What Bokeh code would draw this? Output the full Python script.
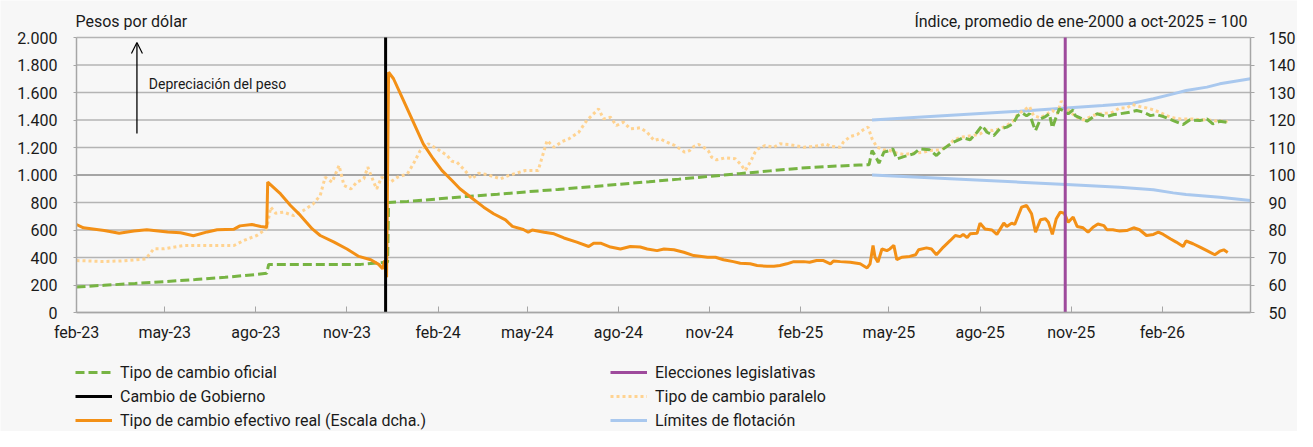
import pandas as pd
from bokeh.plotting import figure
from bokeh.models import (Range1d, LinearAxis, FixedTicker, CustomJSTickFormatter,
                          Legend, LegendItem, Label, Arrow, OpenHead)
from bokeh.embed import file_html
from bokeh.resources import INLINE
from bokeh.core.properties import value

# ---------------- DATA ----------------
FECHA_BASE = "2023-02-01"   # x values below are days since this date

oficial_dias = [0, 28, 59, 89, 120, 150, 181, 192, 194, 287,
                300, 314, 315, 334, 365, 394, 425, 455, 486, 516,
                547, 578, 608, 639, 669, 700, 731, 759, 790, 800,
                803, 806, 810, 815, 821, 824, 828, 835, 845, 851,
                861, 868, 875, 885, 895, 902, 909, 914, 919, 926,
                932, 939, 945, 950, 955, 959, 962, 966, 968, 973,
                978, 982, 985, 989, 992, 996, 1001, 1006, 1008, 1013,
                1020, 1025, 1030, 1040, 1047, 1053, 1063, 1070, 1077, 1084,
                1090, 1097, 1107, 1117, 1124, 1134, 1141, 1147, 1154, 1162]
oficial = [186, 198, 211, 224, 240, 256, 276, 285, 350, 350,
           358, 366, 800, 808, 826, 844, 860, 878, 895, 913,
           932, 951, 970, 990, 1010, 1030, 1050, 1062, 1072, 1075,
           1178, 1142, 1086, 1166, 1178, 1190, 1117, 1134, 1154, 1190,
           1183, 1142, 1190, 1239, 1270, 1256, 1311, 1360, 1311, 1287,
           1336, 1348, 1372, 1432, 1450, 1430, 1445, 1360, 1323, 1408,
           1425, 1445, 1343, 1425, 1481, 1469, 1445, 1474, 1432, 1416,
           1391, 1416, 1445, 1425, 1440, 1445, 1457, 1469, 1457, 1432,
           1440, 1425, 1396, 1367, 1401, 1396, 1408, 1372, 1391, 1382]

paralelo_dias = [0, 27, 45, 70, 78, 88, 108, 128, 142, 159,
                 169, 182, 192, 196, 201, 209, 219, 229, 239, 246,
                 251, 258, 265, 270, 277, 283, 290, 294, 300, 303,
                 308, 317, 324, 334, 340, 347, 355, 364, 374, 379,
                 384, 392, 399, 406, 414, 428, 436, 444, 453, 466,
                 475, 482, 490, 497, 507, 515, 527, 532, 539, 545,
                 552, 559, 569, 576, 583, 589, 596, 604, 609, 614,
                 619, 623, 628, 633, 638, 641, 646, 655, 665, 670,
                 675, 680, 685, 688, 695, 704, 710, 719, 725, 734,
                 742, 751, 756, 762, 771, 774, 781, 788, 794, 799,
                 803, 808, 815, 821, 828, 835, 845, 855, 861, 872,
                 878, 885, 892, 898, 905, 912, 918, 925, 932, 939,
                 945, 950, 955, 962, 966, 973, 980, 985, 990, 994,
                 998, 1003, 1009, 1016, 1019, 1026, 1033, 1040, 1046, 1053,
                 1060, 1066, 1073, 1080, 1087, 1093, 1100, 1107, 1114, 1120,
                 1127, 1134, 1141, 1147, 1154, 1162]
paralelo = [378, 371, 375, 390, 463, 463, 487, 487, 487, 487,
            524, 560, 610, 766, 722, 730, 705, 742, 790, 851,
            984, 948, 1069, 924, 899, 948, 972, 1057, 948, 899,
            984, 948, 984, 1008, 1081, 1178, 1227, 1190, 1142, 1100,
            1093, 1033, 972, 1013, 1004, 972, 996, 1013, 1033, 1033,
            1251, 1202, 1243, 1263, 1311, 1396, 1481, 1408, 1420, 1360,
            1384, 1336, 1343, 1311, 1251, 1263, 1239, 1214, 1190, 1166,
            1178, 1207, 1222, 1202, 1173, 1130, 1110, 1125, 1118, 1081,
            1033, 1093, 1166, 1190, 1214, 1202, 1227, 1222, 1214, 1202,
            1207, 1214, 1227, 1207, 1202, 1239, 1280, 1294, 1328, 1348,
            1263, 1202, 1183, 1178, 1159, 1149, 1159, 1166, 1178, 1183,
            1202, 1251, 1275, 1280, 1287, 1299, 1328, 1323, 1336, 1360,
            1391, 1440, 1465, 1498, 1432, 1416, 1445, 1469, 1445, 1537,
            1505, 1457, 1423, 1401, 1408, 1432, 1445, 1450, 1457, 1488,
            1488, 1513, 1498, 1488, 1474, 1457, 1432, 1416, 1408, 1408,
            1408, 1401, 1401, 1396, 1391, 1390]

tcer_dias = [0, 7, 28, 43, 58, 71, 92, 105, 118, 132,
             142, 159, 165, 177, 186, 192, 193, 206, 216, 226,
             238, 246, 260, 273, 285, 297, 305, 309, 311, 313,
             315, 320, 330, 340, 350, 360, 369, 379, 387, 398,
             411, 421, 433, 440, 451, 456, 460, 472, 482, 492,
             505, 517, 522, 529, 539, 549, 559, 569, 576, 586,
             593, 603, 613, 623, 637, 645, 653, 663, 670, 680,
             687, 697, 704, 710, 717, 724, 734, 740, 747, 754,
             761, 764, 771, 781, 791, 798, 801, 804, 806, 809,
             813, 818, 821, 825, 828, 833, 841, 847, 850, 858,
             863, 868, 875, 882, 887, 892, 895, 899, 902, 909,
             912, 917, 924, 929, 936, 939, 944, 947, 954, 959,
             964, 968, 973, 978, 981, 985, 989, 993, 997, 1001,
             1006, 1010, 1016, 1021, 1026, 1031, 1037, 1040, 1046, 1053,
             1060, 1067, 1073, 1080, 1087, 1092, 1097, 1104, 1110, 1117,
             1120, 1127, 1134, 1141, 1149, 1154, 1158, 1162]
tcer = [82.0, 80.8, 79.8, 78.8, 79.6, 80.1, 79.3, 79.0, 77.9, 79.3,
        80.1, 80.3, 81.5, 82.0, 81.3, 81.0, 97.4, 93.1, 88.9, 85.3,
        80.4, 78.0, 75.6, 73.1, 70.4, 69.2, 67.5, 65.9, 68.9, 62.8,
        137.4, 135.0, 127.1, 119.2, 111.3, 105.9, 101.6, 98.0, 95.0, 91.9,
        88.3, 85.9, 83.7, 81.3, 80.2, 79.2, 80.0, 79.2, 78.6, 77.1,
        75.6, 74.0, 75.2, 75.2, 73.8, 73.1, 74.0, 73.8, 73.1, 72.5,
        73.1, 72.8, 71.9, 70.7, 70.1, 70.1, 69.2, 68.5, 67.9, 67.7,
        67.1, 66.8, 66.8, 67.1, 67.7, 68.5, 68.5, 68.3, 68.9, 68.9,
        67.7, 68.7, 68.5, 68.3, 67.7, 66.2, 67.7, 74.4, 70.1, 68.3,
        73.1, 72.5, 73.1, 74.4, 69.2, 70.1, 70.4, 71.0, 72.8, 73.5,
        73.1, 71.0, 73.8, 76.2, 78.0, 77.6, 78.4, 77.2, 78.6, 78.8,
        82.5, 80.4, 80.0, 78.4, 82.5, 81.3, 82.5, 82.0, 88.3, 88.9,
        85.9, 79.2, 83.7, 84.1, 82.8, 78.4, 84.1, 86.5, 86.1, 82.8,
        84.7, 81.3, 80.8, 79.2, 81.0, 82.2, 81.6, 80.1, 80.1, 79.6,
        79.8, 80.8, 80.1, 78.0, 78.4, 79.2, 78.4, 76.8, 75.6, 74.0,
        76.0, 75.0, 73.8, 72.5, 71.0, 72.3, 72.8, 71.8]

banda_sup_dias = [803, 952, 999, 1036, 1066, 1087, 1107, 1120, 1141, 1154, 1185]
banda_sup = [1400, 1464, 1488, 1505, 1522, 1554, 1590, 1614, 1639, 1663, 1700]
banda_inf_dias = [803, 952, 999, 1053, 1087, 1107, 1120, 1154, 1185]
banda_inf = [1000, 948, 931, 911, 892, 870, 858, 839, 815]

fecha_gobierno = "2023-12-10"
fecha_elecciones = "2025-10-26"

x_ticks = ["2023-02-01", "2023-05-01", "2023-08-01", "2023-11-01", "2024-02-01",
           "2024-05-01", "2024-08-01", "2024-11-01", "2025-02-01", "2025-05-01",
           "2025-08-01", "2025-11-01", "2026-02-01"]
x_tick_labels = ["feb-23", "may-23", "ago-23", "nov-23", "feb-24", "may-24", "ago-24",
                 "nov-24", "feb-25", "may-25", "ago-25", "nov-25", "feb-26"]
x_inicio, x_fin = "2023-02-01", "2026-05-01"

y_izq_ticks = [0, 200, 400, 600, 800, 1000, 1200, 1400, 1600, 1800, 2000]
y_izq_labels = ["0", "200", "400", "600", "800", "1.000", "1.200", "1.400",
                "1.600", "1.800", "2.000"]
y_der_ticks = [50, 60, 70, 80, 90, 100, 110, 120, 130, 140, 150]

# ---------------- LAYOUT (pixels) ----------------
W, H = 1297, 431
LEFT, RIGHT_B = 76, 47                 # plot area: x from 76 to W-47
TOP_TXT, PLOT_H = 37, 275              # plot area: y from 37 to 312
BOTTOM_STRIP = H - TOP_TXT - PLOT_H    # room for x labels and legend
PLOT_W = W - LEFT - RIGHT_B

base = pd.Timestamp(FECHA_BASE)


def fechas(dias):
    return [base + pd.Timedelta(days=d) for d in dias]


def ms(s):
    return pd.Timestamp(s).value // 10**6


xs, xe = ms(x_inicio), ms(x_fin)
px_x = (xe - xs) / PLOT_W
x_lo, x_hi = xs - LEFT * px_x, xe + RIGHT_B * px_x
y0, y1 = y_izq_ticks[0], y_izq_ticks[-1]
r0, r1 = y_der_ticks[0], y_der_ticks[-1]
px_y = (y1 - y0) / PLOT_H
px_r = (r1 - r0) / PLOT_H
y_lo, y_hi = y0 - BOTTOM_STRIP * px_y, y1 + TOP_TXT * px_y
r_lo, r_hi = r0 - BOTTOM_STRIP * px_r, r1 + TOP_TXT * px_r

FONT = "Roboto"
TXT = "#1a1a1a"
GRID = "#b4b4b4"
AX = "#a6a6a6"
JS_LOOKUP = "const i = tv.indexOf(tick); return i >= 0 ? lab[i] : '';"

p = figure(frame_width=W, frame_height=H,
           x_axis_type="datetime",
           x_range=Range1d(x_lo, x_hi),
           y_range=Range1d(y_lo, y_hi),
           output_backend="svg", toolbar_location=None,
           min_border_left=0, min_border_right=0,
           min_border_top=0, min_border_bottom=0,
           background_fill_color="#f7f7f7", border_fill_color="#f7f7f7",
           outline_line_color=None)
p.extra_y_ranges = {"der": Range1d(r_lo, r_hi)}
p.xgrid.visible = False
p.ygrid.visible = False

# horizontal grid lines limited to the plot area
grid_col = [("#8a8a8a" if t == 1000 else GRID) for t in y_izq_ticks]
p.segment(x0=[pd.Timestamp(x_inicio)] * len(y_izq_ticks), y0=y_izq_ticks,
          x1=[pd.Timestamp(x_fin)] * len(y_izq_ticks), y1=y_izq_ticks,
          line_color=grid_col, line_width=1.5)

# x axis, drawn at y = 0
xt = [ms(t) for t in x_ticks]
p.xaxis.fixed_location = y0
p.xaxis.bounds = (xs, xe)
p.xaxis.ticker = FixedTicker(ticks=xt)
p.xaxis.formatter = CustomJSTickFormatter(args=dict(tv=xt, lab=x_tick_labels), code=JS_LOOKUP)
p.xaxis.major_tick_in = 6
p.xaxis.major_tick_out = 0
p.xaxis.minor_tick_line_color = None
p.xaxis.major_tick_line_color = AX
p.xaxis.axis_line_color = AX
p.xaxis.axis_line_width = 1.5
p.xaxis.major_label_standoff = 10
p.xaxis.major_label_text_font = FONT
p.xaxis.major_label_text_font_size = "16px"
p.xaxis.major_label_text_color = TXT

# left axis, drawn at the first date
p.yaxis.fixed_location = xs
p.yaxis.ticker = FixedTicker(ticks=y_izq_ticks)
p.yaxis.bounds = (y0, y1)
p.yaxis.formatter = CustomJSTickFormatter(args=dict(tv=y_izq_ticks, lab=y_izq_labels),
                                          code=JS_LOOKUP)
p.yaxis.major_tick_out = 3
p.yaxis.major_tick_in = 0
p.yaxis.minor_tick_line_color = None
p.yaxis.major_tick_line_color = AX
p.yaxis.axis_line_color = AX
p.yaxis.axis_line_width = 1.5
p.yaxis.major_label_standoff = 16
p.yaxis.major_label_text_font = FONT
p.yaxis.major_label_text_font_size = "16px"
p.yaxis.major_label_text_color = TXT

# right axis, drawn at the last date
ax_der = LinearAxis(y_range_name="der", ticker=FixedTicker(ticks=y_der_ticks),
                    bounds=(r0, r1), fixed_location=xe)
ax_der.major_tick_out = 4
ax_der.major_tick_in = 0
ax_der.minor_tick_line_color = None
ax_der.major_tick_line_color = AX
ax_der.axis_line_color = AX
ax_der.axis_line_width = 1.5
ax_der.major_label_standoff = 14
ax_der.major_label_text_font = FONT
ax_der.major_label_text_font_size = "16px"
ax_der.major_label_text_color = TXT
p.add_layout(ax_der, "right")

# series
r_sup = p.line(fechas(banda_sup_dias), banda_sup, line_color="#a9c8ee", line_width=3)
r_inf = p.line(fechas(banda_inf_dias), banda_inf, line_color="#a9c8ee", line_width=3)
r_par = p.line(fechas(paralelo_dias), paralelo, line_color="#ffd391", line_width=3,
               line_dash="3 3")
r_of = p.line(fechas(oficial_dias), oficial, line_color="#77b443", line_width=3,
              line_dash="9 4")
r_tcer = p.line(fechas(tcer_dias), tcer, line_color="#f39016", line_width=3,
                y_range_name="der")
g = pd.Timestamp(fecha_gobierno)
e = pd.Timestamp(fecha_elecciones)
r_gob = p.line([g, g], [y0, y1], line_color="#000000", line_width=3)
r_ele = p.line([e, e], [y0, y1], line_color="#9e4a9c", line_width=3)

# header texts
y_head = y1 + 16 * px_y
p.add_layout(Label(x=pd.Timestamp(x_inicio), y=y_head, text="Pesos por dólar",
                   x_offset=-1, text_baseline="middle", text_font=FONT,
                   text_font_size="16px", text_color=TXT))
p.add_layout(Label(x=pd.Timestamp(x_fin), y=y_head,
                   text="Índice, promedio de ene-2000 a oct-2025 = 100",
                   x_offset=-3, text_align="right", text_baseline="middle",
                   text_font=FONT, text_font_size="16px", text_color=TXT))
p.add_layout(Label(x=base + pd.Timedelta(days=73), y=y1 - 46 * px_y,
                   text="Depreciación del peso",
                   text_baseline="middle", text_font=FONT, text_font_size="14px",
                   text_color=TXT))
xa = base + pd.Timedelta(days=61)
p.add_layout(Arrow(end=OpenHead(size=11, line_width=1.2, line_color="#000000"),
                   x_start=xa, y_start=y1 - 96 * px_y, x_end=xa, y_end=y1 - 5 * px_y,
                   line_width=1.3, line_color="#000000"))

# legends (two columns, in the bottom strip)
leg_kw = dict(orientation="vertical", padding=0, margin=0, spacing=4,
              label_height=20, glyph_height=20, glyph_width=37, label_standoff=8,
              label_text_font=FONT, label_text_font_size="16px",
              label_text_color=TXT, border_line_alpha=0, background_fill_alpha=0)
leg1 = Legend(items=[LegendItem(label="Tipo de cambio oficial", renderers=[r_of]),
                     LegendItem(label="Cambio de Gobierno", renderers=[r_gob]),
                     LegendItem(label="Tipo de cambio efectivo real (Escala dcha.)",
                                renderers=[r_tcer])],
              location=(LEFT - 1, 1), **leg_kw)
leg2 = Legend(items=[LegendItem(label="Elecciones legislativas", renderers=[r_ele]),
                     LegendItem(label="Tipo de cambio paralelo", renderers=[r_par]),
                     LegendItem(label="Límites de flotación", renderers=[r_sup])],
              location=(610, 1), **leg_kw)
p.add_layout(leg1)
p.add_layout(leg2)

open("out.html", "w").write(file_html(p, INLINE))
